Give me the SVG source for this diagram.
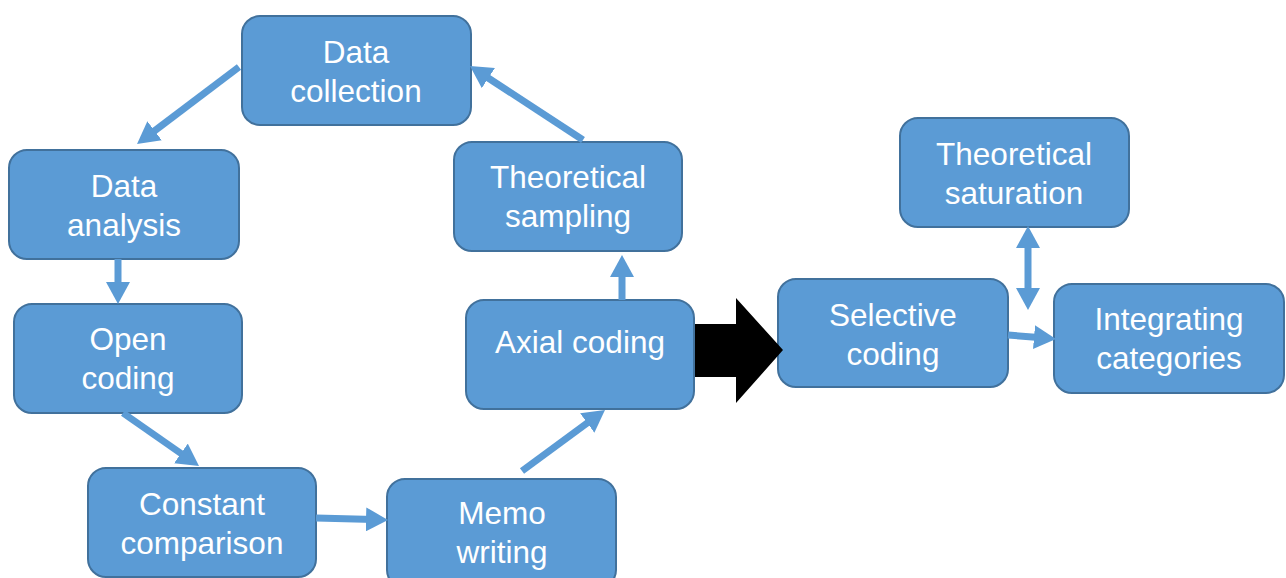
<svg xmlns="http://www.w3.org/2000/svg" width="1286" height="578" viewBox="0 0 1286 578">
  <style>
    .box { fill: #5B9BD5; stroke: #41719C; stroke-width: 2; }
    .lbl { fill: #FFFFFF; font-family: "Liberation Sans", Arial, sans-serif; font-size: 31.5px; text-anchor: middle; }
    .link { stroke: #5B9BD5; stroke-width: 7; fill: none; }
  </style>
  <defs>
    <marker id="head" markerUnits="userSpaceOnUse" markerWidth="22" markerHeight="24" refX="8" refY="12" orient="auto-start-reverse">
      <path d="M0,0 L22,12 L0,24 Z" fill="#5B9BD5"/>
    </marker>
  </defs>
  <rect width="1286" height="578" fill="#FFFFFF"/>

  <g id="data-collection">
    <rect class="box" x="242" y="16" width="229" height="109" rx="18"/>
    <text class="lbl" x="356" y="63">Data</text>
    <text class="lbl" x="356" y="102">collection</text>
  </g>
  <g id="data-analysis">
    <rect class="box" x="9" y="150" width="230" height="109" rx="18"/>
    <text class="lbl" x="124" y="197">Data</text>
    <text class="lbl" x="124" y="236">analysis</text>
  </g>
  <g id="open-coding">
    <rect class="box" x="14" y="304" width="228" height="109" rx="18"/>
    <text class="lbl" x="128" y="350">Open</text>
    <text class="lbl" x="128" y="389">coding</text>
  </g>
  <g id="constant-comparison">
    <rect class="box" x="88" y="468" width="228" height="109" rx="18"/>
    <text class="lbl" x="202" y="515">Constant</text>
    <text class="lbl" x="202" y="554">comparison</text>
  </g>
  <g id="memo-writing">
    <rect class="box" x="387" y="479" width="229" height="109" rx="18"/>
    <text class="lbl" x="502" y="524">Memo</text>
    <text class="lbl" x="502" y="563">writing</text>
  </g>
  <g id="axial-coding">
    <rect class="box" x="466" y="300" width="228" height="109" rx="18"/>
    <text class="lbl" x="580" y="353">Axial coding</text>
  </g>
  <g id="theoretical-sampling">
    <rect class="box" x="454" y="142" width="228" height="109" rx="18"/>
    <text class="lbl" x="568" y="188">Theoretical</text>
    <text class="lbl" x="568" y="227">sampling</text>
  </g>
  <g id="selective-coding">
    <rect class="box" x="778" y="279" width="230" height="108" rx="18"/>
    <text class="lbl" x="893" y="326">Selective</text>
    <text class="lbl" x="893" y="365">coding</text>
  </g>
  <g id="integrating-categories">
    <rect class="box" x="1054" y="284" width="230" height="109" rx="18"/>
    <text class="lbl" x="1169" y="330">Integrating</text>
    <text class="lbl" x="1169" y="369">categories</text>
  </g>
  <g id="theoretical-saturation">
    <rect class="box" x="900" y="118" width="229" height="109" rx="18"/>
    <text class="lbl" x="1014" y="165">Theoretical</text>
    <text class="lbl" x="1014" y="204">saturation</text>
  </g>

  <g id="connectors">
    <line class="link" x1="239" y1="67" x2="148.2" y2="135.6" marker-end="url(#head)"/>
    <line class="link" x1="118" y1="259" x2="118" y2="290" marker-end="url(#head)"/>
    <line class="link" x1="123" y1="413" x2="187.5" y2="458" marker-end="url(#head)"/>
    <line class="link" x1="316" y1="518" x2="374" y2="519.6" marker-end="url(#head)"/>
    <line class="link" x1="522" y1="471" x2="593.7" y2="418.3" marker-end="url(#head)"/>
    <line class="link" x1="622" y1="300" x2="622" y2="269" marker-end="url(#head)"/>
    <line class="link" x1="583" y1="140" x2="481.7" y2="73.7" marker-end="url(#head)"/>
    <line class="link" x1="1028" y1="240" x2="1028" y2="296" marker-start="url(#head)" marker-end="url(#head)"/>
    <line class="link" x1="1008" y1="335" x2="1042" y2="337.8" marker-end="url(#head)"/>
    <polygon id="phase-arrow" points="695,324 736,324 736,298 783,350 736,403 736,377 695,377" fill="#000000"/>
  </g>
</svg>
